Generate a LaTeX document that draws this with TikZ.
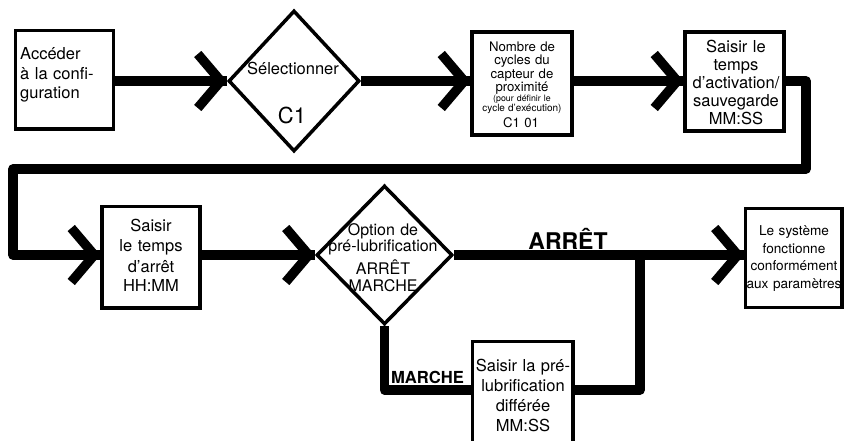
\documentclass[tikz,border=0pt]{standalone}
\usepackage{fontspec}
\setmainfont{TeX Gyre Heros}
\usetikzlibrary{shapes.geometric,calc}
\newcommand\myfs[2]{\fontsize{#1}{#2}\selectfont}
\newcommand\mychev[1]{\draw[chevstyle] ($(#1)+(-29,-27)$) -- ($(#1)+(-6,0)$) -- ($(#1)+(-29,27)$);}
\begin{document}
\begin{tikzpicture}[x=1pt,y=-1pt,
  box/.style={draw=black, line width=3.5pt, fill=white, rectangle, inner sep=0pt},
  dia/.style={draw=black, line width=3.5pt, fill=white, diamond, inner sep=0pt},
  conn/.style={line width=9.5pt, line join=round},
  chevstyle/.style={line width=9.5pt, line join=miter, line cap=butt},
  txt/.style={inner sep=0pt, align=center, anchor=base, text width=#1}]
\fill[white] (0,0) rectangle (844,441);
\useasboundingbox (0,0) rectangle (844,441);

% boxes and diamonds
\node[box, minimum width=98pt, minimum height=98.5pt] (b1) at (64.5,79.75) {};
\node[dia, minimum width=131pt, minimum height=141pt] (d1) at (294,81) {};
\node[box, minimum width=100pt, minimum height=103pt] (b3) at (522,83.5) {};
\node[box, minimum width=99pt, minimum height=99pt] (b4) at (734.5,81.5) {};
\node[box, minimum width=98pt, minimum height=101.5pt] (b5) at (151,257.25) {};
\node[dia, minimum width=136pt, minimum height=139pt] (d2) at (384.5,255) {};
\node[box, minimum width=100.5pt, minimum height=120pt, anchor=north] (b6) at (522.75,339.5) {};
\node[box, minimum width=96.5pt, minimum height=99pt] (b7) at (793.75,258) {};

% helper coordinates
\coordinate (r1) at (806,169);
\coordinate (l1) at (13,169);
\coordinate (by) at (0,390);
\coordinate (jn) at (640,255);
\coordinate (k3) at (b3.west |- d1.west);
\coordinate (k4) at (b4.west |- d1.west);
\coordinate (k5) at (b5.west |- d2.west);
\coordinate (k7) at (b7.west |- d2.west);

% connectors
\draw[conn] (b1.east |- d1.west) -- (d1.west);
\draw[conn] (d1.east) -- (k3);
\draw[conn] (b3.east |- d1.east) -- (k4);
\draw[conn] (b4.east |- d1.east) -| (r1) -- (l1) |- (k5);
\draw[conn] (b5.east |- d2.west) -- (d2.west);
\draw[conn] (d2.east) -- (k7);
\draw[conn] (d2.south) |- (b6.west |- by);
\draw[conn] (b6.east |- by) -| (jn);

% arrowheads
\mychev{d1.west}
\mychev{k3}
\mychev{k4}
\mychev{k5}
\mychev{d2.west}
\mychev{k7}

% texts
\node[txt=95, align=left, anchor=base west, font=\myfs{16.5}{19.5}] (t1) at (20,60) {Accéder\\à la confi-\\guration};
\node[txt=120, font=\myfs{16.5}{19}] (t2a) at (293,75) {Sélectionner};
\node[txt=60, font=\myfs{22}{26}] (t2b) at (292,124) {C1};
\node[txt=100, font=\myfs{13.2}{13.4}] (t3a) at (522,51.3) {Nombre de\\cycles du\\capteur de\\proximité};
\node[txt=100, font=\myfs{9.4}{10}] (t3b) at (522,101.3) {{\myfs{8.8}{10}(pour définir le}\\{\myfs{10}{10}cycle d’exécution)}};
\node[txt=100, font=\myfs{13.2}{16}] (t3c) at (521,128) {C1 01};
\node[txt=100, font=\myfs{16.5}{18}] (t4) at (736,53) {Saisir le\\temps\\d’activation/\\sauvegarde\\MM:SS};
\node[txt=98, font=\myfs{16.5}{20}] (t5) at (151,232) {Saisir\\le temps\\d’arrêt\\HH:MM};
\node[txt=140, font=\myfs{16}{17}] (t6) at (383,235) {Option de\\pré-lubrification\\[3pt]ARRÊT\\MARCHE};
\node[txt=120, font={\bfseries\myfs{23}{26}}] (la) at (568,249) {ARRÊT};
\node[txt=90, font={\bfseries\myfs{16.6}{20}}] (lm) at (427.5,383) {MARCHE};
\node[txt=100, font=\myfs{16.5}{20}] (t7) at (523,371) {Saisir la pré-\\lubrification\\différée\\MM:SS};
\node[txt=98, font=\myfs{13.6}{17.5}] (t8) at (794,235.7) {Le système\\fonctionne\\conformément\\aux paramètres};
\end{tikzpicture}
\end{document}
